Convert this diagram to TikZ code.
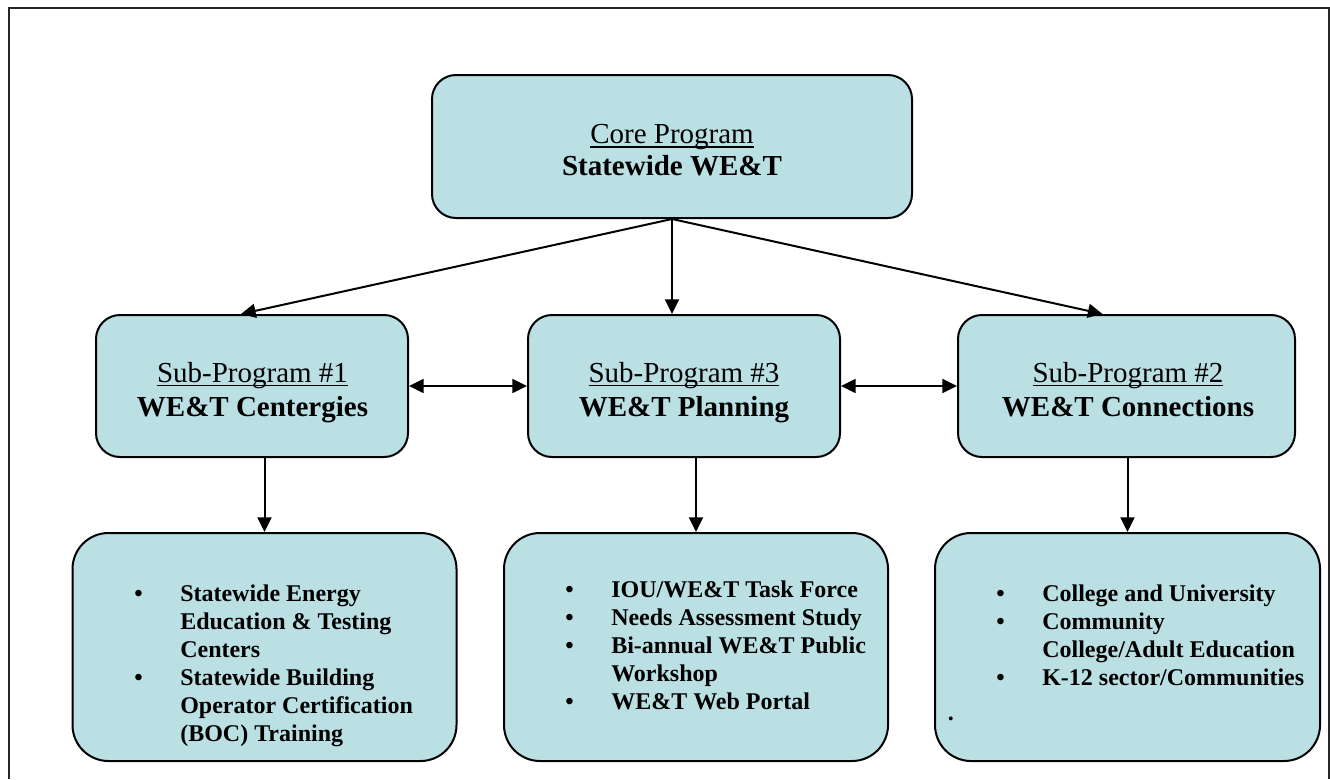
\documentclass[tikz,border=0pt]{standalone}
\usepackage{fontspec}
\setmainfont{Liberation Serif}
\usetikzlibrary{arrows.meta,calc}
\definecolor{boxfill}{RGB}{187,224,228}
\newcommand\bigtext{\fontsize{21.75pt}{24pt}\selectfont}
\newcommand\smalltext{\fontsize{18pt}{21pt}\selectfont\bfseries}
\newcommand\blt{\textbullet}
\newcommand\wul[1]{\setbox0\hbox{#1}\rlap{\rule[-3.2pt]{\wd0}{0.9pt}}\box0}
\begin{document}
\begin{tikzpicture}[x=0.75pt,y=-0.75pt,
  box/.style={draw=black,line width=1.5pt,fill=boxfill,rounded corners=18pt,inner sep=0pt},
  lowbox/.style={draw=black,line width=1.5pt,fill=boxfill,rounded corners=27pt,inner sep=0pt},
  headtext/.style={anchor=base,inner sep=0pt,font=\bigtext},
  listtext/.style={anchor=base west,inner sep=0pt,font=\smalltext},
  conn/.style={line width=1.5pt,-{Triangle[length=11pt,width=10.5pt]}},
  dconn/.style={line width=1.5pt,{Triangle[length=11pt,width=10.5pt]}-{Triangle[length=11pt,width=10.5pt]}},
  frame/.style={line width=1.5pt,draw=black!85}]
\useasboundingbox (0,0) rectangle (1330,779);
\draw[frame] (9,779) -- (9,8) -- (1329,8) -- (1329,779);
% boxes
\node[box,minimum width=480*0.75pt,minimum height=143*0.75pt] (core) at (672,146.5) {};
\node[box,minimum width=312*0.75pt,minimum height=142*0.75pt] (sub1) at (252,386) {};
\node[box,minimum width=312*0.75pt,minimum height=142*0.75pt] (sub3) at (684,386) {};
\node[box,minimum width=337*0.75pt,minimum height=142*0.75pt] (sub2) at (1126.5,386) {};
\node[lowbox,minimum width=384*0.75pt,minimum height=228*0.75pt] (low1) at (264.5,647) {};
\node[lowbox,minimum width=384*0.75pt,minimum height=228*0.75pt] (low2) at (696,647) {};
\node[lowbox,minimum width=385*0.75pt,minimum height=228*0.75pt] (low3) at (1127.5,647) {};
% header texts
\node[headtext] (coretext) at (672,143.3) {\wul{Core Program}};
\node[headtext] (coretext2) at (672,175.3) {\bfseries Statewide WE\&T};
\node[headtext] (sub1text) at (252.5,382) {\wul{Sub-Program \#1}};
\node[headtext] (sub1text2) at (252.5,416.7) {\bfseries WE\&T Centergies};
\node[headtext] (sub3text) at (684,382) {\wul{Sub-Program \#3}};
\node[headtext] (sub3text2) at (684,416.7) {\bfseries WE\&T Planning};
\node[headtext] (sub2text) at (1128,382) {\wul{Sub-Program \#2}};
\node[headtext] (sub2text2) at (1128,416.7) {\bfseries WE\&T Connections};
% list texts
\node[listtext] (list1) at (134,601.5) {\begin{tabular}[t]{@{}p{34.5pt}@{}l@{}}
\blt & Statewide Energy\\
 & Education \& Testing\\
 & Centers\\
\blt & Statewide Building\\
 & Operator Certification\\
 & (BOC) Training
\end{tabular}};
\node[listtext] (list2) at (565,597) {\begin{tabular}[t]{@{}p{34.5pt}@{}l@{}}
\blt & IOU/WE\&T Task Force\\
\blt & Needs Assessment Study\\
\blt & Bi-annual WE\&T Public\\
 & Workshop\\
\blt & WE\&T Web Portal
\end{tabular}};
\node[listtext] (list3) at (996,601) {\begin{tabular}[t]{@{}p{34.5pt}@{}l@{}}
\blt & College and University\\
\blt & Community\\
 & College/Adult Education\\
\blt & K-12 sector/Communities
\end{tabular}};
\node[listtext] (dot3) at (947.5,720) {.};
% connectors
\draw[conn] (core.south) -- ($(sub1.north)+(-11,0)$);
\draw[conn] (core.south) -- (core.south |- sub3.north);
\draw[conn] (core.south) -- ($(sub2.north)+(-24,0)$);
\draw[dconn] (sub1.east) -- (sub3.west);
\draw[dconn] (sub3.east) -- (sub2.west);
\draw[conn] (low1.north |- sub1.south) -- (low1.north);
\draw[conn] (low2.north |- sub3.south) -- (low2.north);
\draw[conn] (low3.north |- sub2.south) -- (low3.north);
\end{tikzpicture}
\end{document}
